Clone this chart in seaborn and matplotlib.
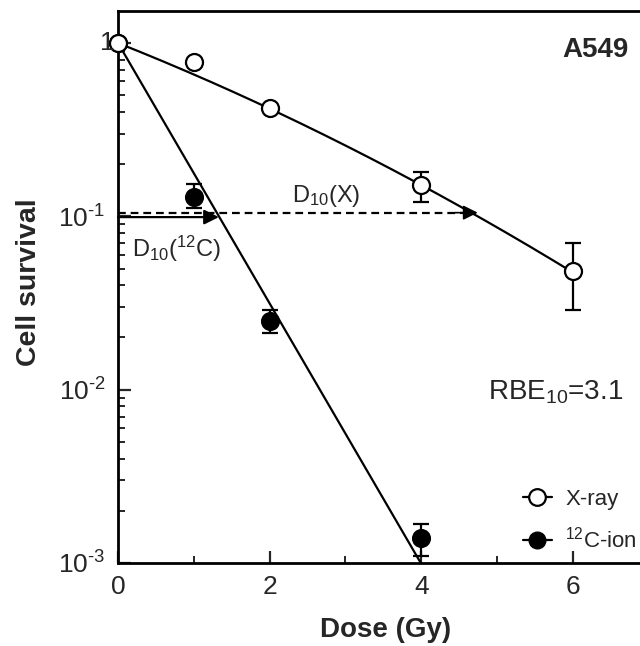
import numpy as np
import pandas as pd
import matplotlib
matplotlib.use("Agg")
import matplotlib.pyplot as plt
from matplotlib.lines import Line2D
from matplotlib.ticker import MultipleLocator, FixedLocator, LogLocator, NullFormatter
import seaborn as sns

# ---- data ----
xray_dose = [0, 1, 2, 4, 6]
xray_surv = [1.0, 0.78, 0.42, 0.152, 0.0485]
xray_err_lo = [0.0, 0.0, 0.0, 0.031, 0.0195]
xray_err_hi = [0.0, 0.0, 0.0, 0.028, 0.0215]

cion_dose = [0, 1, 2, 4]
cion_surv = [1.0, 0.13, 0.025, 0.0014]
cion_err_lo = [0.0, 0.018, 0.0038, 0.0003]
cion_err_hi = [0.0, 0.024, 0.0038, 0.00028]

# fitted LQ model parameters (as drawn)
xray_alpha, xray_beta = 0.40, 0.018
cion_alpha, cion_beta = 1.73, 0.0

HY = "\u2010"
y_ticks = [1e-3, 1e-2, 1e-1, 1]
y_ticklabels = [r"$\mathregular{10^{" + HY + "3}}$", r"$\mathregular{10^{" + HY + "2}}$",
                r"$\mathregular{10^{" + HY + "1}}$", ""]
x_ticks = [0, 2, 4, 6]

# ---- style ----
sns.set_style("ticks")
plt.rcParams["font.family"] = ["Liberation Sans", "DejaVu Sans"]
plt.rcParams["mathtext.fontset"] = "custom"
plt.rcParams["mathtext.rm"] = "Liberation Sans"
plt.rcParams["mathtext.it"] = "Liberation Sans:italic"
plt.rcParams["mathtext.bf"] = "Liberation Sans:bold"

fig = plt.figure(figsize=(6.4, 6.46), dpi=100)
ax = fig.add_axes([118 / 640, 83 / 646, 7 * 75.83 / 640, 552 / 646])

df_pts = pd.DataFrame({
    "dose": xray_dose + cion_dose,
    "surv": xray_surv + cion_surv,
    "beam": ["X-ray"] * len(xray_dose) + ["C"] * len(cion_dose),
})

# fitted curves
def lq(d, a, b):
    return np.exp(-a * d - b * d ** 2)

dx = np.linspace(0, max(xray_dose), 200)
dc = np.linspace(0, max(cion_dose), 200)
fit_df = pd.DataFrame({
    "dose": np.concatenate([dx, dc]),
    "surv": np.concatenate([lq(dx, xray_alpha, xray_beta), lq(dc, cion_alpha, cion_beta)]),
    "beam": ["X-ray"] * len(dx) + ["C"] * len(dc),
})
sns.lineplot(data=fit_df, x="dose", y="surv", units="beam", estimator=None,
             color="black", lw=1.6, ax=ax, zorder=2, legend=False)

# D10 arrows
d10_x = (-xray_alpha + np.sqrt(xray_alpha ** 2 + 4 * xray_beta * np.log(10))) / (2 * xray_beta)
d10_c = np.log(10) / cion_alpha
ax.plot([0, d10_x - 0.2], [0.105, 0.105], color="black", lw=1.6,
        linestyle=(0, (3.5, 2.2)), zorder=1)
ax.annotate("", xy=(d10_x, 0.105), xytext=(d10_x - 0.3, 0.105),
            arrowprops=dict(arrowstyle="-|>", color="black", lw=1.2,
                            mutation_scale=22, shrinkA=0, shrinkB=0), zorder=3)
ax.annotate("", xy=(d10_c, 0.099), xytext=(0, 0.099),
            arrowprops=dict(arrowstyle="-|>", color="black", lw=1.6,
                            mutation_scale=22, shrinkA=0, shrinkB=0), zorder=3)

# error bars
ax.errorbar(xray_dose, xray_surv, yerr=[xray_err_lo, xray_err_hi], fmt="none",
            ecolor="black", elinewidth=1.6, capsize=6, capthick=1.6, zorder=3)
ax.errorbar(cion_dose, cion_surv, yerr=[cion_err_lo, cion_err_hi], fmt="none",
            ecolor="black", elinewidth=1.6, capsize=6, capthick=1.6, zorder=3)

# markers
sns.scatterplot(data=df_pts[df_pts.beam == "C"], x="dose", y="surv", ax=ax,
                color="black", edgecolor="black", s=150, linewidth=1.5, zorder=4,
                legend=False, clip_on=False)
sns.scatterplot(data=df_pts[df_pts.beam == "X-ray"], x="dose", y="surv", ax=ax,
                color="white", edgecolor="black", s=150, linewidth=1.6, zorder=5,
                legend=False, clip_on=False)

ax.set_yscale("log")
ax.set_xlim(0, 7)
ax.set_ylim(1e-3, 1.53)
ax.yaxis.set_major_locator(FixedLocator(y_ticks))
ax.set_yticklabels(y_ticklabels)
ax.yaxis.set_minor_locator(LogLocator(base=10, subs=np.arange(2, 10)))
ax.yaxis.set_minor_formatter(NullFormatter())
ax.set_xticks(x_ticks)
ax.xaxis.set_minor_locator(MultipleLocator(1))

ax.tick_params(which="major", direction="in", length=9, width=1.6, labelsize=19, pad=9)
ax.tick_params(which="minor", direction="in", length=5, width=1.4)
for s in ax.spines.values():
    s.set_linewidth(2)
    s.set_color("black")

# the "1" label sits right against the axis, overlapping the first marker
ax.annotate("1", xy=(0, 1), xytext=(-2.5, 0), textcoords="offset points",
            ha="right", va="center", fontsize=19, zorder=6, annotation_clip=False)

ax.set_xlabel("Dose (Gy)", fontsize=20, fontweight="bold")
ax.set_ylabel("Cell survival", fontsize=20.5, fontweight="bold")
ax.xaxis.set_label_coords(0.505, -0.098)
ax.yaxis.set_label_coords(-0.1426, 0.509)

# texts
ax.text(2.75, 0.121, r"D$\mathregular{_{10}}$(X)", fontsize=17, ha="center", va="baseline")
ax.text(0.18, 0.058, r"D$\mathregular{_{10}}$($\mathregular{^{12}}$C)", fontsize=17,
        ha="left", va="baseline")
ax.text(6.73, 0.91, "A549", fontsize=20, fontweight="bold", ha="right", va="center")
ax.text(4.88, 0.0088, r"RBE$\mathregular{_{10}}$=3.1", fontsize=20, ha="left", va="baseline")

handles = [
    Line2D([], [], color="black", lw=1.6, marker="o", markersize=12,
           markerfacecolor="white", markeredgecolor="black", markeredgewidth=1.6),
    Line2D([], [], color="black", lw=1.6, marker="o", markersize=12,
           markerfacecolor="black", markeredgecolor="black"),
]
fig.legend(handles, ["X-ray", r"$\mathregular{^{12}}$C-ion"], loc="center left",
           bbox_to_anchor=(523 / 640, (646 - 521) / 646), frameon=False, fontsize=16,
           handlelength=1.3, handletextpad=0.6, labelspacing=0.75, borderpad=0,
           borderaxespad=0)

fig.savefig("out.png", dpi=100)
